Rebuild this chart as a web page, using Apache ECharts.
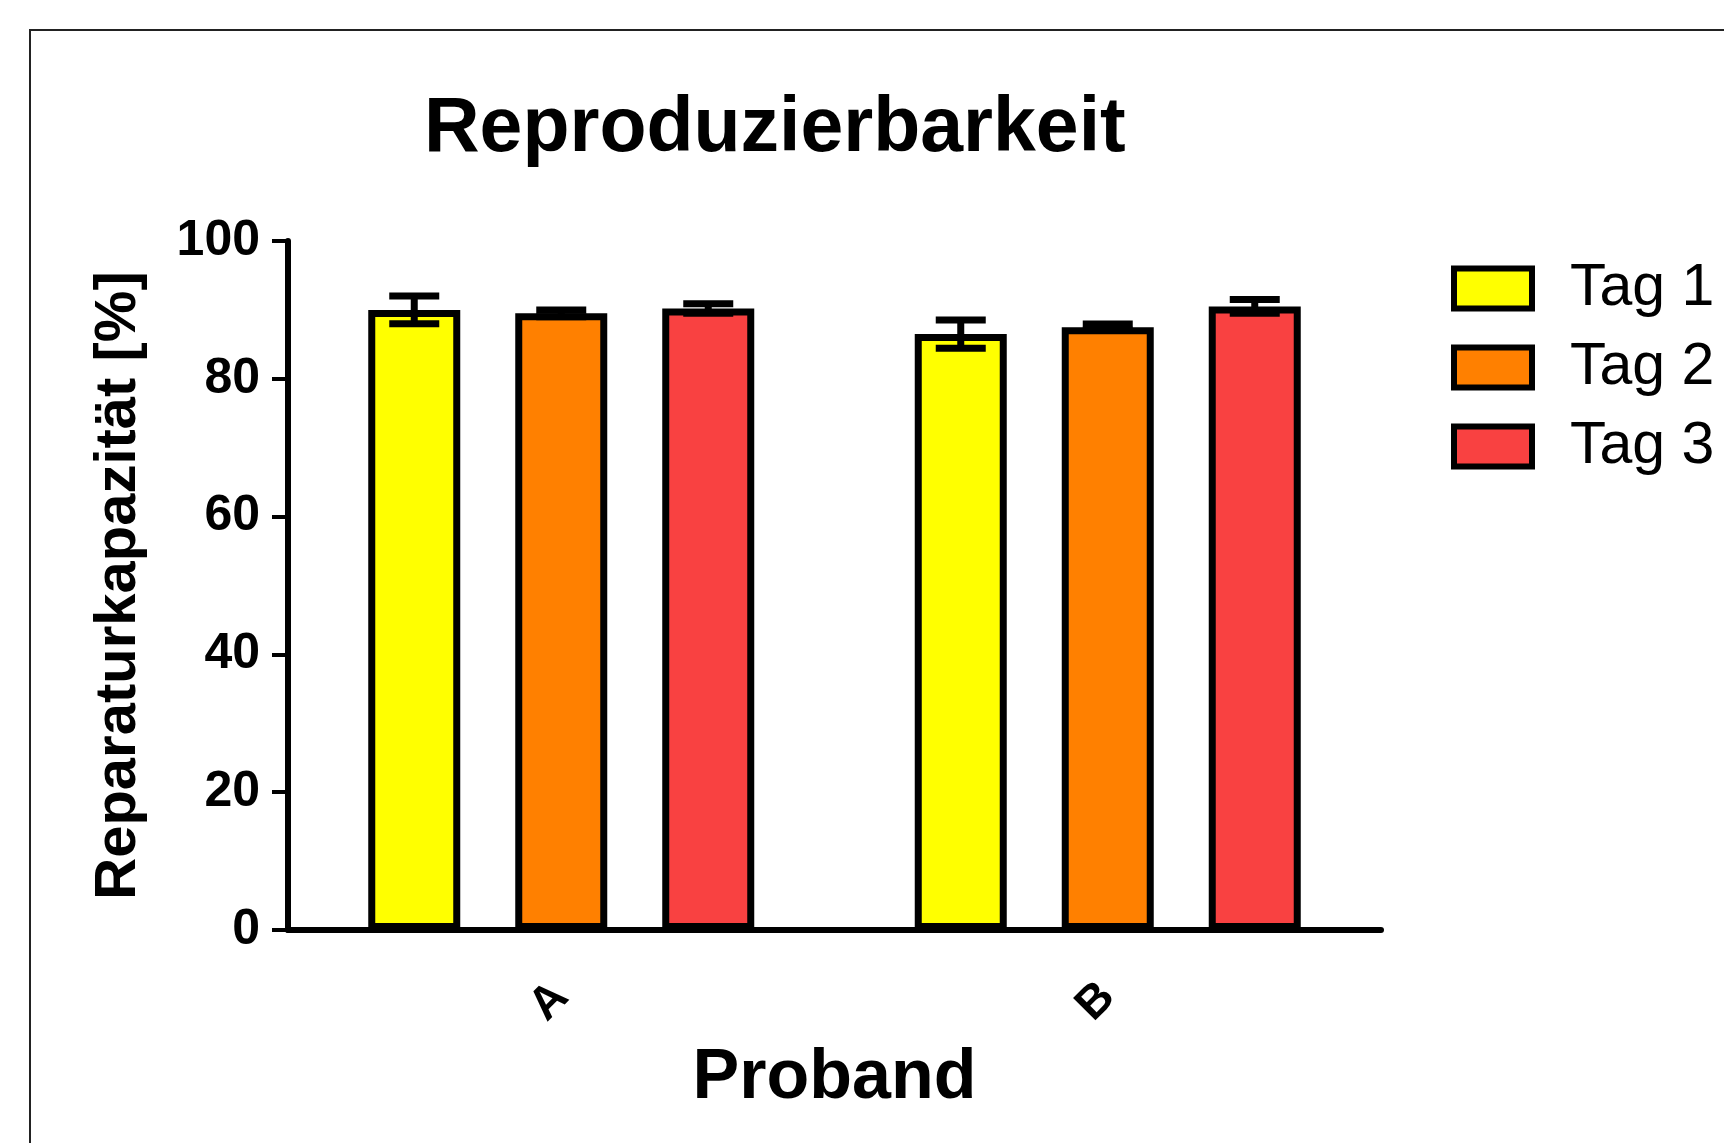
<!DOCTYPE html>
<html>
<head>
<meta charset="utf-8">
<script src="https://cdn.jsdelivr.net/npm/echarts@6/dist/echarts.min.js"></script>
<style>
html,body{margin:0;padding:0;background:#fff;}
#chart{width:1724px;height:1143px;}
</style>
</head>
<body>
<div id="chart"></div>
<script>
const categories = ['A', 'B'];
const seriesNames = ['Tag 1', 'Tag 2', 'Tag 3'];
const tag1Mean = [90.0, 86.5];
const tag1Err = [2.0, 2.05];
const tag2Mean = [89.5, 87.5];
const tag2Err = [0.5, 0.45];
const tag3Mean = [90.2, 90.5];
const tag3Err = [0.7, 1.0];
const yMin = 0, yMax = 100, yInterval = 20;
const colors = ['#FFFF00', '#FF8000', '#F94141'];

const means = [tag1Mean, tag2Mean, tag3Mean];
const errs = [tag1Err, tag2Err, tag3Err];

const BAR_W = 92;
const STEP = 147;
const CAP_HALF = 25;
const FONT = '"Liberation Sans", Arial, sans-serif';

const errData = [];
for (let s = 0; s < 3; s++) {
  for (let c = 0; c < categories.length; c++) {
    errData.push([c, means[s][c], errs[s][c], s]);
  }
}

const chart = echarts.init(document.getElementById('chart'));

const barSeries = seriesNames.map((n, i) => ({
  name: n,
  type: 'bar',
  data: means[i],
  barWidth: BAR_W,
  barGap: (((STEP - BAR_W) / BAR_W) * 100).toFixed(2) + '%',
  itemStyle: { color: colors[i], borderColor: '#000', borderWidth: 7 },
  z: 2
}));

chart.setOption({
  animation: false,
  backgroundColor: '#fff',
  title: {
    text: 'Reproduzierbarkeit',
    left: 424,
    top: 91,
    padding: 0,
    textStyle: { fontFamily: FONT, fontWeight: 'bold', fontSize: 77, color: '#000' }
  },
  legend: {
    data: seriesNames,
    orient: 'vertical',
    left: 1446,
    top: 254,
    itemWidth: 78,
    itemHeight: 40,
    itemGap: 20,
    icon: 'rect',
    itemStyle: { borderColor: '#000', borderWidth: 6 },
    textStyle: { fontFamily: FONT, fontSize: 59, color: '#000', lineHeight: 40, padding: [0, 0, 0, 33] }
  },
  grid: { left: 288, top: 241, right: 343, bottom: 213, containLabel: false },
  xAxis: {
    type: 'category',
    data: categories,
    name: 'Proband',
    nameLocation: 'middle',
    nameGap: 114,
    nameTextStyle: { fontFamily: FONT, fontWeight: 'bold', fontSize: 70, color: '#000' },
    axisLine: { lineStyle: { color: '#000', width: 6 } },
    axisTick: { alignWithLabel: true, length: 20, lineStyle: { color: '#000', width: 4 } },
    axisLabel: { rotate: 45, margin: 60, fontFamily: FONT, fontWeight: 'bold', fontSize: 46, color: '#000' },
    splitLine: { show: false }
  },
  yAxis: {
    type: 'value',
    min: yMin,
    max: yMax,
    interval: yInterval,
    name: 'Reparaturkapazität [%]',
    nameLocation: 'middle',
    nameGap: 140,
    nameTextStyle: { fontFamily: FONT, fontWeight: 'bold', fontSize: 58, color: '#000' },
    axisLine: { show: true, lineStyle: { color: '#000', width: 6 } },
    axisTick: { show: true, length: 16, lineStyle: { color: '#000', width: 4 } },
    axisLabel: { margin: 28, fontFamily: FONT, fontWeight: 'bold', fontSize: 50, color: '#000' },
    splitLine: { show: false }
  },
  graphic: [{
    type: 'rect',
    shape: { x: 30, y: 30, width: 1800, height: 1300 },
    style: { fill: 'none', stroke: '#222', lineWidth: 2 },
    silent: true,
    z: -10
  }],
  series: barSeries.concat([{
    type: 'custom',
    data: errData,
    encode: { x: 0, y: 1 },
    z: 5,
    renderItem: function (params, api) {
      const c = api.value(0), m = api.value(1), e = api.value(2), s = api.value(3);
      const base = api.coord([c, m]);
      const x = base[0] + (s - 1) * STEP;
      const yHi = api.coord([c, m + e])[1];
      const yLo = api.coord([c, m - e])[1];
      const st = { stroke: '#000', lineWidth: 7 };
      return {
        type: 'group',
        children: [
          { type: 'line', shape: { x1: x, y1: yHi, x2: x, y2: yLo }, style: st },
          { type: 'line', shape: { x1: x - CAP_HALF, y1: yHi, x2: x + CAP_HALF, y2: yHi }, style: st },
          { type: 'line', shape: { x1: x - CAP_HALF, y1: yLo, x2: x + CAP_HALF, y2: yLo }, style: st }
        ]
      };
    }
  }])
});
</script>
</body>
</html>
